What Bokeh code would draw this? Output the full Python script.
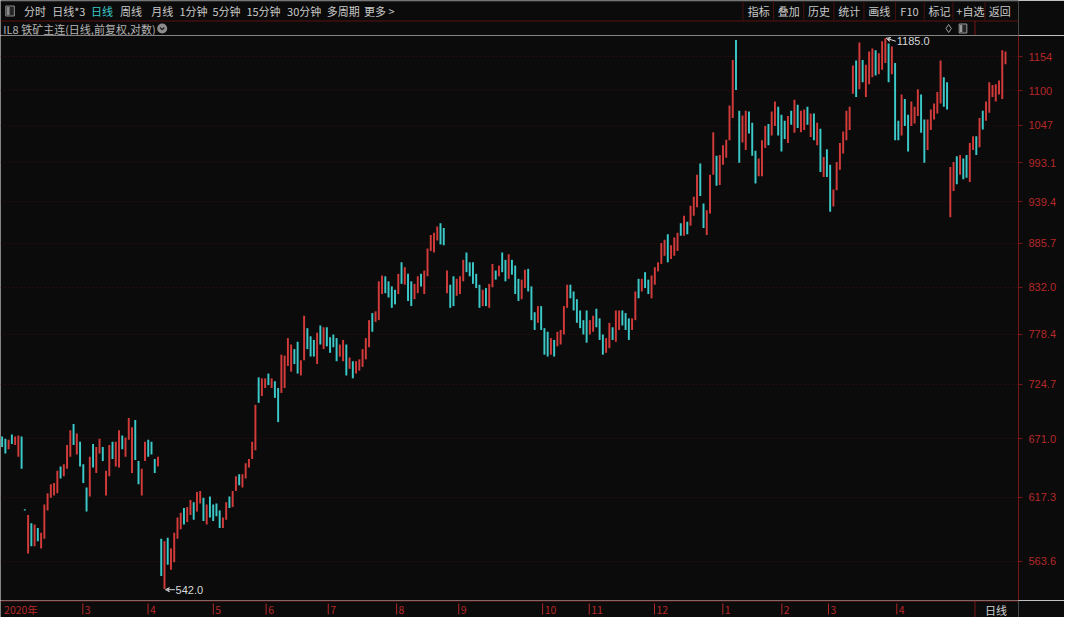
import numpy as np
from bokeh.plotting import figure
from bokeh.models import ColumnDataSource, Range1d, FixedTicker, Label, Arrow, VeeHead
from bokeh.layouts import column
from bokeh.embed import file_html
from bokeh.resources import INLINE
from bokeh.core.properties import value

# ---------------- data ----------------
opens = [
    673, 671, 661, 675, 665, 654, 673, 607, 570, 595,
    576, 591, 574, 582, 606, 617, 619, 621, 645, 636,
    643, 654, 685, 656, 668, 647, 626, 618, 666, 639,
    657, 663, 619, 636, 668, 645, 644, 674, 654, 670,
    639, 689, 650, 619, 650, 670, 668, 652, 645, 582,
    542, 583, 557, 563, 582, 590, 608, 596, 602, 613,
    605, 612, 617, 594, 618, 611, 612, 606, 591, 598,
    618, 609, 623, 638, 626, 634, 644, 652, 660, 732,
    713, 721, 736, 721, 728, 721, 716, 721, 744, 738,
    762, 770, 734, 750, 785, 776, 772, 746, 788, 762,
    786, 775, 778, 774, 754, 749, 767, 741, 749, 736,
    739, 743, 751, 764, 802, 792, 794, 824, 845, 839,
    833, 829, 824, 862, 835, 848, 839, 818, 825, 848,
    824, 845, 876, 874, 889, 911, 905, 825, 835, 845,
    822, 824, 839, 874, 862, 862, 848, 835, 810, 831,
    808, 832, 852, 845, 874, 865, 842, 865, 858, 842,
    818, 831, 854, 833, 803, 791, 810, 785, 781, 756,
    772, 765, 767, 778, 808, 835, 827, 818, 805, 794,
    805, 778, 781, 807, 796, 778, 758, 763, 786, 770,
    783, 805, 802, 796, 783, 794, 842, 827, 850, 841,
    819, 835, 851, 860, 870, 897, 866, 870, 876, 911,
    895, 913, 908, 921, 932, 992, 937, 896, 924, 976,
    1003, 962, 990, 1000, 1025, 1058, 1182, 1069, 1022, 1011,
    1068, 1051, 1010, 974, 974, 1014, 1049, 1032, 1046, 1075,
    1063, 1054, 1021, 1069, 1036, 1078, 1037, 1040, 1075, 1030,
    1065, 1018, 1042, 973, 1012, 990, 933, 955, 983, 1006,
    1025, 1040, 1095, 1148, 1102, 1149, 1090, 1110, 1121, 1165,
    1126, 1133, 1144, 1176, 1126, 1144, 1054, 1032, 1087, 1063,
    1046, 1050, 1061, 1094, 1056, 1011, 1040, 1056, 1065, 1080,
    1121, 1113, 919, 954, 1002, 976, 999, 1004, 966, 1011,
    1031, 1015, 1069, 1054, 1066, 1090, 1083, 1094, 1087, 1142,
]
closes = [
    663, 657, 670, 666, 673, 674, 643, 606, 602, 576,
    594, 580, 587, 611, 621, 629, 630, 641, 634, 647,
    665, 679, 665, 676, 645, 630, 605, 654, 644, 663,
    671, 650, 641, 665, 652, 668, 679, 661, 672, 691,
    682, 651, 629, 643, 668, 654, 656, 639, 654, 552,
    580, 561, 574, 587, 600, 604, 594, 609, 615, 598,
    622, 623, 597, 611, 600, 597, 601, 591, 600, 613,
    608, 623, 636, 628, 638, 648, 652, 668, 704, 706,
    731, 731, 724, 731, 711, 687, 756, 755, 774, 767,
    746, 736, 750, 799, 762, 754, 754, 780, 767, 786,
    765, 758, 764, 749, 767, 772, 734, 753, 731, 749,
    751, 762, 774, 794, 781, 804, 839, 846, 825, 820,
    808, 812, 848, 836, 856, 816, 810, 836, 845, 833,
    852, 879, 896, 899, 907, 884, 883, 852, 808, 810,
    842, 845, 865, 850, 845, 836, 831, 808, 829, 810,
    836, 860, 841, 858, 850, 839, 872, 847, 824, 816,
    841, 853, 827, 794, 783, 810, 783, 756, 754, 774,
    754, 781, 783, 810, 835, 819, 805, 791, 785, 778,
    769, 794, 799, 786, 772, 756, 774, 791, 772, 805,
    805, 788, 783, 772, 796, 827, 819, 842, 831, 824,
    846, 856, 862, 886, 890, 862, 883, 893, 899, 895,
    921, 897, 934, 946, 976, 947, 905, 928, 976, 1037,
    961, 1004, 1018, 1026, 1077, 1149, 1101, 993, 1062, 1069,
    1035, 1003, 964, 999, 1025, 1046, 1018, 1068, 1083, 1032,
    1009, 1027, 1061, 1048, 1086, 1043, 1069, 1071, 1048, 1065,
    1025, 1051, 980, 1001, 973, 926, 956, 994, 1021, 1038,
    1069, 1075, 1140, 1090, 1178, 1113, 1141, 1163, 1168, 1124,
    1160, 1180, 1185, 1113, 1171, 1025, 1025, 1094, 1046, 1009,
    1083, 1075, 1102, 1036, 993, 1056, 1071, 1080, 1098, 1148,
    1075, 1071, 987, 994, 963, 1004, 970, 972, 1021, 1031,
    1004, 1058, 1041, 1083, 1113, 1109, 1110, 1116, 1165, 1163,
]
y_ticks = [563.6, 617.3, 671.0, 724.7, 778.4, 832.0, 885.7, 939.4, 993.1, 1047.0, 1100.0, 1154.0]
y_tick_labels = ["563.6", "617.3", "671.0", "724.7", "778.4", "832.0", "885.7",
                 "939.4", "993.1", "1047", "1100", "1154"]
month_idx = [0, 26, 47, 68, 85, 105, 127, 147, 174, 189, 210, 232, 251, 266, 288]
month_labels = ["2020年", "3", "4", "5", "6", "7", "8", "9", "10", "11", "12", "1", "2", "3", "4"]
menu_left = ["分时", "日线*3", "日线", "周线", "月线", "1分钟", "5分钟", "15分钟", "30分钟", "多周期", "更多 >"]
menu_right = ["指标", "叠加", "历史", "统计", "画线", "F10", "标记", "+自选", "返回"]
title_text = "IL8 铁矿主连(日线,前复权,对数)"
period_text = "日线"

# ---------------- layout / style ----------------
W = 1064
TOP_H = 35
MAIN_H = 565
BOT_H = 17
AXIS_W = 46
BG = "#0b0b0b"
RED = "#d33b3b"
CYAN = "#3cc9c9"
AXIS_RED = "#7a1616"
LABEL_RED = "#b52828"
ANN = "#d8d8d8"
MENU = "#c8c8c8"
CJK = "Noto Sans CJK SC"
NUM = "Liberation Sans"

menu_left_x = [24.5, 54, 94.5, 125, 157.5, 187, 221.5, 257, 299.5, 341, 380]
menu_right_x = [781, 812.5, 844, 875.5, 907, 940.5, 970, 999, 1033]
sep_x = [776, 808, 839.5, 871, 902.5, 935.5, 965.5, 995.5, 1029]
AXIS_PX = W - AXIS_W

def bare(fig):
    fig.grid.visible = False
    fig.outline_line_color = None
    return fig

# ---------------- top strip: menu + title ----------------
topf = figure(width=W, height=TOP_H, x_range=Range1d(0, W), y_range=Range1d(TOP_H, 0),
              x_axis_location=None, y_axis_location=None, toolbar_location=None,
              output_backend="svg", background_fill_color=BG, border_fill_color=BG, min_border=0)
bare(topf)
topf.segment(x0=[0], y0=[0.5], x1=[W], y1=[0.5], line_color="#4a4a4a", line_width=1)
topf.segment(x0=[0], y0=[20.5], x1=[W], y1=[20.5], line_color="#5a1212", line_width=1)
topf.segment(x0=sep_x, y0=[1] * len(sep_x), x1=sep_x, y1=[20] * len(sep_x),
             line_color="#4a1010", line_width=1)
topf.segment(x0=[AXIS_PX + 0.5], y0=[20.5], x1=[AXIS_PX + 0.5], y1=[TOP_H],
             line_color=AXIS_RED, line_width=1)
topf.rect(x=[10], y=[10.5], width=9, height=10, fill_color="#262626", line_color="#8a8a8a", line_width=1)
topf.rect(x=[8], y=[10.5], width=3, height=8, fill_color="#8a8a8a", line_color=None)
left_colors = [CYAN if i == 2 else MENU for i in range(len(menu_left))]
topf.text(x=menu_left_x, y=[10.5] * len(menu_left), text=menu_left, text_color=left_colors,
          text_font=value(CJK), text_font_size="11px", text_baseline="middle", text_align="left")
topf.text(x=menu_right_x, y=[10.5] * len(menu_right), text=menu_right, text_color=MENU,
          text_font=value(CJK), text_font_size="11px", text_baseline="middle", text_align="left")
topf.text(x=[3], y=[28], text=[title_text], text_color="#b4b4b4",
          text_font=value(CJK), text_font_size="11px", text_baseline="middle", text_align="left")
topf.scatter(x=[169], y=[28], size=10, marker="circle", fill_color="#8c8c8c", line_color=None)
topf.line(x=[166.8, 169, 171.2], y=[27, 29.2, 27], line_color="#2a2a2a", line_width=1.5)
topf.scatter(x=[991], y=[28], size=8, marker="diamond", fill_color=None, line_color="#9a9a9a", line_width=1)
topf.rect(x=[1006], y=[28], width=8, height=9, fill_color="#262626", line_color="#9a9a9a", line_width=1)
topf.rect(x=[1004], y=[28], width=2.5, height=7, fill_color="#9a9a9a", line_color=None)

# ---------------- main chart ----------------
n = len(opens)
idx = np.arange(n)
o = np.array(opens, dtype=float)
c = np.array(closes, dtype=float)
top = np.maximum(o, c)
bot = np.minimum(o, c)
colors = [RED if cc >= oo else CYAN for oo, cc in zip(o, c)]
src = ColumnDataSource(dict(x=idx, top=top, bottom=bot, color=colors))

x0, x1 = -0.5, 313.0
main = figure(width=W, height=MAIN_H, x_range=Range1d(x0, x1), y_range=Range1d(533.2, 1189.6),
              y_axis_type="log", y_axis_location="right", x_axis_location=None,
              toolbar_location=None, output_backend="svg",
              background_fill_color=BG, border_fill_color=BG,
              min_border_left=0, min_border_right=AXIS_W, min_border_top=0, min_border_bottom=0)
main.outline_line_color = None
ax = main.yaxis[0]
ax.ticker = FixedTicker(ticks=y_ticks)
ax.major_label_overrides = {t: s for t, s in zip(y_ticks, y_tick_labels)}
ax.axis_line_color = AXIS_RED
ax.major_tick_line_color = AXIS_RED
ax.major_tick_in = 0
ax.major_tick_out = 4
ax.minor_tick_line_color = None
ax.major_label_text_color = LABEL_RED
ax.major_label_text_font = NUM
ax.major_label_text_font_size = "11px"
ax.major_label_standoff = 6
main.ygrid.ticker = FixedTicker(ticks=y_ticks)
main.ygrid.grid_line_color = "#3a0f0f"
main.ygrid.grid_line_dash = "1 3"
main.xgrid.visible = False

main.vbar(x="x", width=0.6, top="top", bottom="bottom", fill_color="color",
          line_color=None, source=src)

hi_i = int(np.argmax(top)); hi_v = float(top[hi_i])
lo_i = int(np.argmin(bot)); lo_v = float(bot[lo_i])
main.add_layout(Arrow(end=VeeHead(size=4, line_color=ANN, line_width=1, fill_color=None),
                      x_start=lo_i + 3.2, y_start=lo_v * 0.999, x_end=lo_i + 0.3, y_end=lo_v * 0.999,
                      line_color=ANN, line_width=1))
main.add_layout(Label(x=lo_i + 3.4, y=lo_v * 0.999, text=f"{lo_v:.1f}", text_color=ANN,
                      text_font=NUM, text_font_size="11px", text_baseline="middle", text_align="left"))
main.add_layout(Arrow(end=VeeHead(size=4, line_color=ANN, line_width=1, fill_color=None),
                      x_start=hi_i + 3.2, y_start=hi_v * 0.9957, x_end=hi_i + 0.3, y_end=hi_v,
                      line_color=ANN, line_width=1))
main.add_layout(Label(x=hi_i + 3.5, y=hi_v * 0.9957, text=f"{hi_v:.1f}", text_color=ANN,
                      text_font=NUM, text_font_size="11px", text_baseline="middle", text_align="left"))

# ---------------- bottom strip: months ----------------
bx1 = x0 + (x1 - x0) * W / (W - AXIS_W)
botf = figure(width=W, height=BOT_H, x_range=Range1d(x0, bx1), y_range=Range1d(BOT_H, 0),
              x_axis_location=None, y_axis_location=None, toolbar_location=None,
              output_backend="svg", background_fill_color=BG, border_fill_color=BG, min_border=0)
bare(botf)
botf.extra_x_ranges = {"px": Range1d(0, W)}
botf.segment(x0=[0], y0=[0.5], x1=[W], y1=[0.5], line_color=AXIS_RED, line_width=1, x_range_name="px")
botf.segment(x0=[AXIS_PX + 0.5], y0=[0], x1=[AXIS_PX + 0.5], y1=[BOT_H], line_color=AXIS_RED,
             line_width=1, x_range_name="px")
tick_x = month_idx[1:]
botf.segment(x0=tick_x, y0=[3] * len(tick_x), x1=tick_x, y1=[14] * len(tick_x),
             line_color=LABEL_RED, line_width=1)
botf.text(x=month_idx, y=[9] * len(month_idx), text=month_labels, x_offset=2,
          text_color=LABEL_RED, text_font=value(CJK), text_font_size="10.5px",
          text_baseline="middle", text_align="left")
botf.text(x=[AXIS_PX + 11], y=[9], text=[period_text], text_color="#d0d0d0",
          text_font=value(CJK), text_font_size="11px", text_baseline="middle",
          text_align="left", x_range_name="px")

layout = column(topf, main, botf, spacing=0)
open("out.html", "w").write(file_html(layout, INLINE))
